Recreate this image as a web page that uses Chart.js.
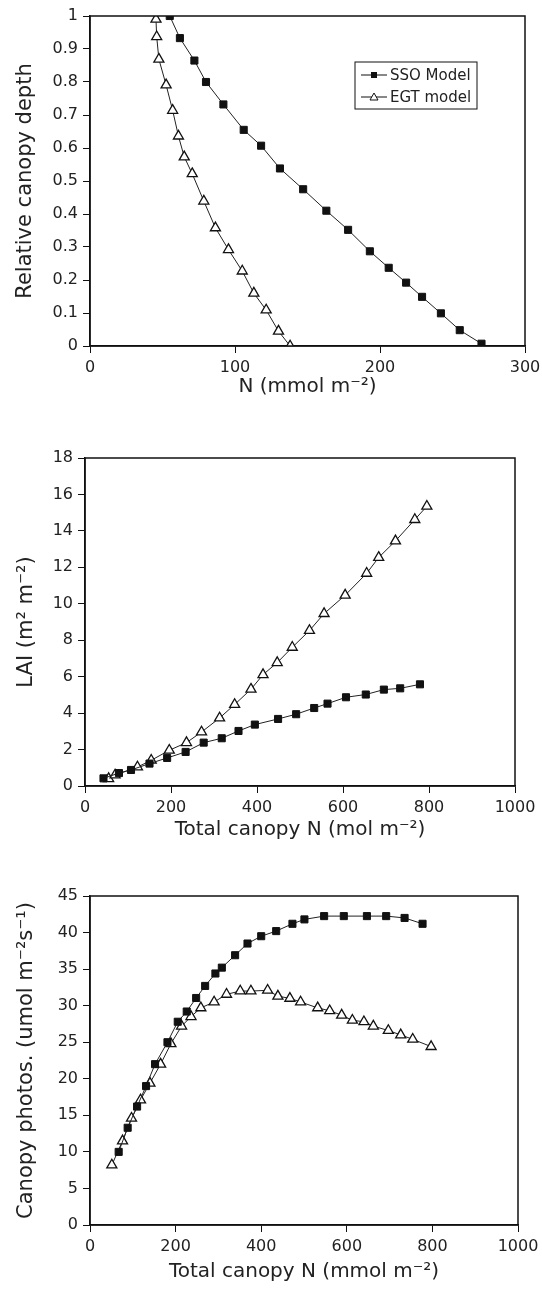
<!DOCTYPE html>
<html>
<head>
<meta charset="utf-8">
<script src="https://cdn.jsdelivr.net/npm/chart.js@4.4.0/dist/chart.umd.min.js"></script>
<style>
  body { margin: 0; background: #fff; }
  .panel { position: absolute; left: 0; }
</style>
</head>
<body>
<div class="panel" style="top:0"><canvas id="depthChart" width="542" height="420"></canvas></div>
<div class="panel" style="top:420px"><canvas id="laiChart" width="542" height="430"></canvas></div>
<div class="panel" style="top:860px"><canvas id="photoChart" width="542" height="434"></canvas></div>
<script>
// panel 1: N vs relative canopy depth
const ssoDepthN = [55, 62, 72, 80, 92, 106, 118, 131, 147, 163, 178, 193, 206, 218, 229, 242, 255, 270];
const ssoDepth = [1.0, 0.933, 0.865, 0.8, 0.732, 0.655, 0.607, 0.538, 0.475, 0.41, 0.352, 0.287, 0.237, 0.192, 0.149, 0.099, 0.048, 0.007];
const egtDepthN = [45.5, 46, 47.5, 52.5, 57, 61, 65, 70.5, 78.5, 86.5, 95.5, 105, 113, 121.5, 130, 138];
const egtDepth = [0.99, 0.937, 0.869, 0.791, 0.714, 0.636, 0.573, 0.522, 0.439, 0.358, 0.292, 0.227, 0.16, 0.109, 0.045, 0.0];

// panel 2: total canopy N vs LAI
const ssoLaiN = [43, 79, 107, 150, 191, 234, 276, 318, 357, 395, 449, 491, 533, 564, 607, 653, 695, 733, 779];
const ssoLai = [0.42, 0.71, 0.88, 1.23, 1.54, 1.87, 2.38, 2.62, 3.02, 3.37, 3.68, 3.94, 4.28, 4.52, 4.87, 5.02, 5.29, 5.36, 5.58];
const egtLaiN = [55, 70, 122, 154, 196, 236, 271, 313, 348, 386, 414, 447, 482, 522, 556, 605, 655, 683, 722, 767, 795];
const egtLai = [0.4, 0.6, 1.04, 1.41, 1.96, 2.38, 2.96, 3.73, 4.47, 5.31, 6.11, 6.77, 7.61, 8.53, 9.46, 10.47, 11.67, 12.54, 13.45, 14.62, 15.35];

// panel 3: total canopy N vs canopy photosynthesis
const ssoPhotoN = [67, 88, 110, 131, 152, 181, 205, 226, 248, 269, 293, 308, 339, 368, 400, 435, 473, 501, 547, 593, 647, 692, 735, 777];
const ssoPhoto = [10.0, 13.3, 16.2, 19.0, 22.0, 25.0, 27.8, 29.2, 31.05, 32.7, 34.4, 35.2, 36.9, 38.5, 39.5, 40.2, 41.2, 41.8, 42.25, 42.25, 42.25, 42.25, 42.0, 41.2];
const egtPhotoN = [51, 76, 97, 118, 140, 165, 189, 214, 236, 259, 290, 319, 351, 376, 415, 439, 467, 492, 532, 560, 588, 613, 640, 662, 697, 726, 754, 797];
const egtPhoto = [8.2, 11.5, 14.6, 17.1, 19.4, 22.0, 24.8, 27.2, 28.5, 29.7, 30.5, 31.55, 32.0, 32.0, 32.1, 31.3, 31.0, 30.5, 29.7, 29.3, 28.7, 28.0, 27.8, 27.2, 26.6, 26.0, 25.4, 24.4];

const seriesLabels = ["SSO Model", "EGT model"];

Chart.defaults.font.family = "'DejaVu Sans', sans-serif";
Chart.defaults.color = "#222";

const toPoints = (xs, ys) => xs.map((x, i) => ({ x, y: ys[i] }));
const plainTick = (v) => String(+v.toFixed(1));

function series(label, xs, ys) {
  const isSso = label === seriesLabels[0];
  return {
    label,
    data: toPoints(xs, ys),
    showLine: true,
    borderColor: "#222",
    borderWidth: 1,
    pointStyle: isSso ? "rect" : "triangle",
    pointRadius: isSso ? 5 : 5.8,
    pointBorderWidth: isSso ? 1 : 1.3,
    pointBackgroundColor: isSso ? "#111" : "#fff",
    pointBorderColor: "#111",
  };
}

// top + right edges of the plot box
const framePlugin = {
  id: "frame",
  afterDraw(chart) {
    const { ctx, chartArea: a } = chart;
    ctx.save();
    ctx.strokeStyle = "#111";
    ctx.lineWidth = 1.5;
    ctx.strokeRect(a.left, a.top, a.right - a.left, a.bottom - a.top);
    ctx.restore();
  },
};

// boxed legend inside the plot area (first panel only)
const boxLegend = {
  id: "boxLegend",
  afterDraw(chart, args, opts) {
    const { ctx } = chart;
    const x = opts.left;
    const y = opts.top;
    ctx.save();
    ctx.strokeStyle = "#111";
    ctx.lineWidth = 1;
    ctx.strokeRect(x, y, opts.width, opts.height);
    ctx.font = "15px 'DejaVu Sans', sans-serif";
    ctx.fillStyle = "#222";
    ctx.textBaseline = "middle";
    chart.data.datasets.forEach((ds, i) => {
      const cy = y + 13 + i * 22;
      ctx.beginPath();
      ctx.moveTo(x + 6, cy);
      ctx.lineTo(x + 32, cy);
      ctx.stroke();
      if (ds.pointStyle === "rect") {
        ctx.fillStyle = "#111";
        ctx.fillRect(x + 16, cy - 3, 6, 6);
      } else {
        ctx.beginPath();
        ctx.moveTo(x + 19, cy - 4);
        ctx.lineTo(x + 23, cy + 3);
        ctx.lineTo(x + 15, cy + 3);
        ctx.closePath();
        ctx.fillStyle = "#fff";
        ctx.fill();
        ctx.stroke();
      }
      ctx.fillStyle = "#222";
      ctx.fillText(ds.label, x + 35, cy + 1);
    });
    ctx.restore();
  },
};

function makeChart(id, datasets, g, plugins, extraPluginOpts) {
  return new Chart(document.getElementById(id), {
    type: "scatter",
    data: { datasets },
    options: {
      responsive: false,
      animation: false,
      layout: { padding: { left: g.padLeft, top: g.padTop, right: g.padRight, bottom: g.padBottom } },
      plugins: Object.assign({ legend: { display: false }, tooltip: { enabled: false } }, extraPluginOpts),
      scales: {
        x: {
          type: "linear",
          min: g.xMin, max: g.xMax,
          ticks: { stepSize: g.xStep, font: { size: 16 }, padding: 5, maxRotation: 0, callback: plainTick },
          grid: { drawOnChartArea: false, color: "#111", tickLength: 7 },
          border: { color: "#111", width: 1.5 },
          title: { display: true, text: g.xTitle, font: { size: 20 }, padding: 0 },
          afterFit: (s) => { s.height = g.xHeight; s.paddingLeft = 0; s.paddingRight = 0; },
        },
        y: {
          type: "linear",
          min: g.yMin, max: g.yMax,
          ticks: { stepSize: g.yStep, font: { size: 16 }, padding: 5, callback: plainTick },
          grid: { drawOnChartArea: false, color: "#111", tickLength: 7 },
          border: { color: "#111", width: 1.5 },
          title: { display: true, text: g.yTitle, font: { size: 21 }, padding: 0 },
          afterFit: (s) => { s.width = g.yWidth; s.paddingTop = 0; s.paddingBottom = 0; },
        },
      },
    },
    plugins,
  });
}

makeChart("depthChart",
  [series(seriesLabels[0], ssoDepthN, ssoDepth), series(seriesLabels[1], egtDepthN, egtDepth)],
  { padLeft: 13, yWidth: 77, padTop: 16, padRight: 17, padBottom: 21, xHeight: 53,
    xMin: 0, xMax: 300, xStep: 100, yMin: 0, yMax: 1, yStep: 0.1,
    xTitle: "N (mmol m\u207B\u00B2)", yTitle: "Relative canopy depth" },
  [framePlugin, boxLegend],
  { boxLegend: { left: 355, top: 62, width: 122, height: 47 } });

makeChart("laiChart",
  [series(seriesLabels[0], ssoLaiN, ssoLai), series(seriesLabels[1], egtLaiN, egtLai)],
  { padLeft: 14, yWidth: 71, padTop: 38, padRight: 27, padBottom: 8, xHeight: 56,
    xMin: 0, xMax: 1000, xStep: 200, yMin: 0, yMax: 18, yStep: 2,
    xTitle: "Total canopy N (mol m\u207B\u00B2)", yTitle: "LAI (m\u00B2 m\u207B\u00B2)" },
  [framePlugin]);

makeChart("photoChart",
  [series(seriesLabels[0], ssoPhotoN, ssoPhoto), series(seriesLabels[1], egtPhotoN, egtPhoto)],
  { padLeft: 14, yWidth: 76, padTop: 36, padRight: 24, padBottom: 10, xHeight: 59,
    xMin: 0, xMax: 1000, xStep: 200, yMin: 0, yMax: 45, yStep: 5,
    xTitle: "Total canopy N (mmol m\u207B\u00B2)", yTitle: "Canopy photos. (umol m\u207B\u00B2s\u207B\u00B9)" },
  [framePlugin]);
</script>
</body>
</html>
